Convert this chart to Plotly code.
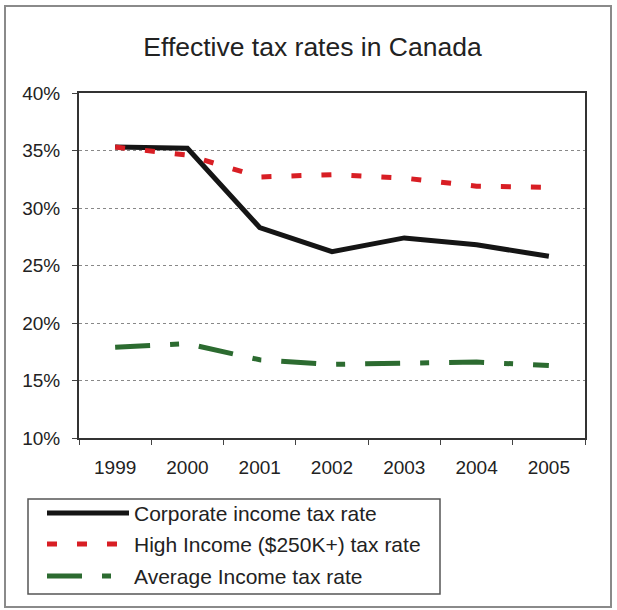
import plotly.graph_objects as go

# ---- data ----
years = ["1999", "2000", "2001", "2002", "2003", "2004", "2005"]
corporate = [35.3, 35.2, 28.3, 26.2, 27.4, 26.8, 25.8]
high_income = [35.3, 34.6, 32.7, 32.9, 32.6, 31.9, 31.8]
average_income = [17.9, 18.2, 16.8, 16.4, 16.5, 16.6, 16.3]
series_names = ["Corporate income tax rate",
                "High Income ($250K+) tax rate",
                "Average Income tax rate"]
y_ticks = [10, 15, 20, 25, 30, 35, 40]

W, H = 617, 610
L, R, T, B = 79, 585, 93, 438  # plot area pixels

def px_x(px):
    return (px - L) / (R - L)

def px_y(py):
    return (B - py) / (B - T)

FONT = "Liberation Sans, Arial, sans-serif"
colors = ["#151515", "#d81e24", "#2c6b30"]
dashes = ["solid", "10px,20px", "35px,20px,9px,20px"]

fig = go.Figure()
for vals, name, c, d in zip([corporate, high_income, average_income], series_names, colors, dashes):
    fig.add_trace(go.Scatter(x=years, y=vals, mode="lines", name=name,
                             line=dict(color=c, width=5, dash=d),
                             showlegend=False))

fig.update_layout(
    width=W, height=H,
    margin=dict(l=L, r=W - R, t=T, b=H - B, pad=0),
    paper_bgcolor="white", plot_bgcolor="white",
    font=dict(family=FONT, color="#222"),
    title=dict(text="Effective tax rates in Canada", xanchor="center",
               y=1 - 47 / H, yanchor="middle", xref="paper",
               font=dict(size=26.5, family=FONT, color="#222")),
)
fig.layout.title.x = ((W / 2 + 4) - L) / (R - L)
fig.update_xaxes(type="category", range=[-0.5, len(years) - 0.5],
                 tickson="boundaries", ticks="outside", ticklen=5,
                 tickcolor="#444", showline=True, linecolor="#333", linewidth=2, mirror=True,
                 showgrid=False, ticklabelstandoff=11,
                 tickfont=dict(size=19, family=FONT, color="#222"))
fig.update_yaxes(range=[10, 40], tickvals=y_ticks, ticktext=[f"{v}%" for v in y_ticks],
                 ticks="outside", ticklen=5, tickcolor="#444",
                 showline=True, linecolor="#333", linewidth=2, mirror=True,
                 showgrid=True, gridcolor="#888", griddash="dot", gridwidth=1,
                 zeroline=False, ticklabelstandoff=8,
                 tickfont=dict(size=19, family=FONT, color="#222"))

# outer frame
fig.add_shape(type="rect", xref="paper", yref="paper",
              x0=px_x(5), x1=px_x(611), y0=px_y(607), y1=px_y(6),
              line=dict(color="#8a8a8a", width=2), layer="below")
# legend box
fig.add_shape(type="rect", xref="paper", yref="paper",
              x0=px_x(28), x1=px_x(440), y0=px_y(594), y1=px_y(499),
              line=dict(color="#555", width=1.5))
for i, (name, c, d) in enumerate(zip(series_names, colors, dashes)):
    yy = [513, 544, 576][i]
    fig.add_shape(type="line", xref="paper", yref="paper",
                  x0=px_x(47), x1=px_x(129), y0=px_y(yy), y1=px_y(yy),
                  line=dict(color=c, width=5, dash=d))
    fig.add_annotation(text=name, xref="paper", yref="paper", x=px_x(132), y=px_y(yy),
                       xanchor="left", yanchor="middle", showarrow=False,
                       font=dict(size=21, family=FONT, color="#222"))

fig.write_html("out.html")
